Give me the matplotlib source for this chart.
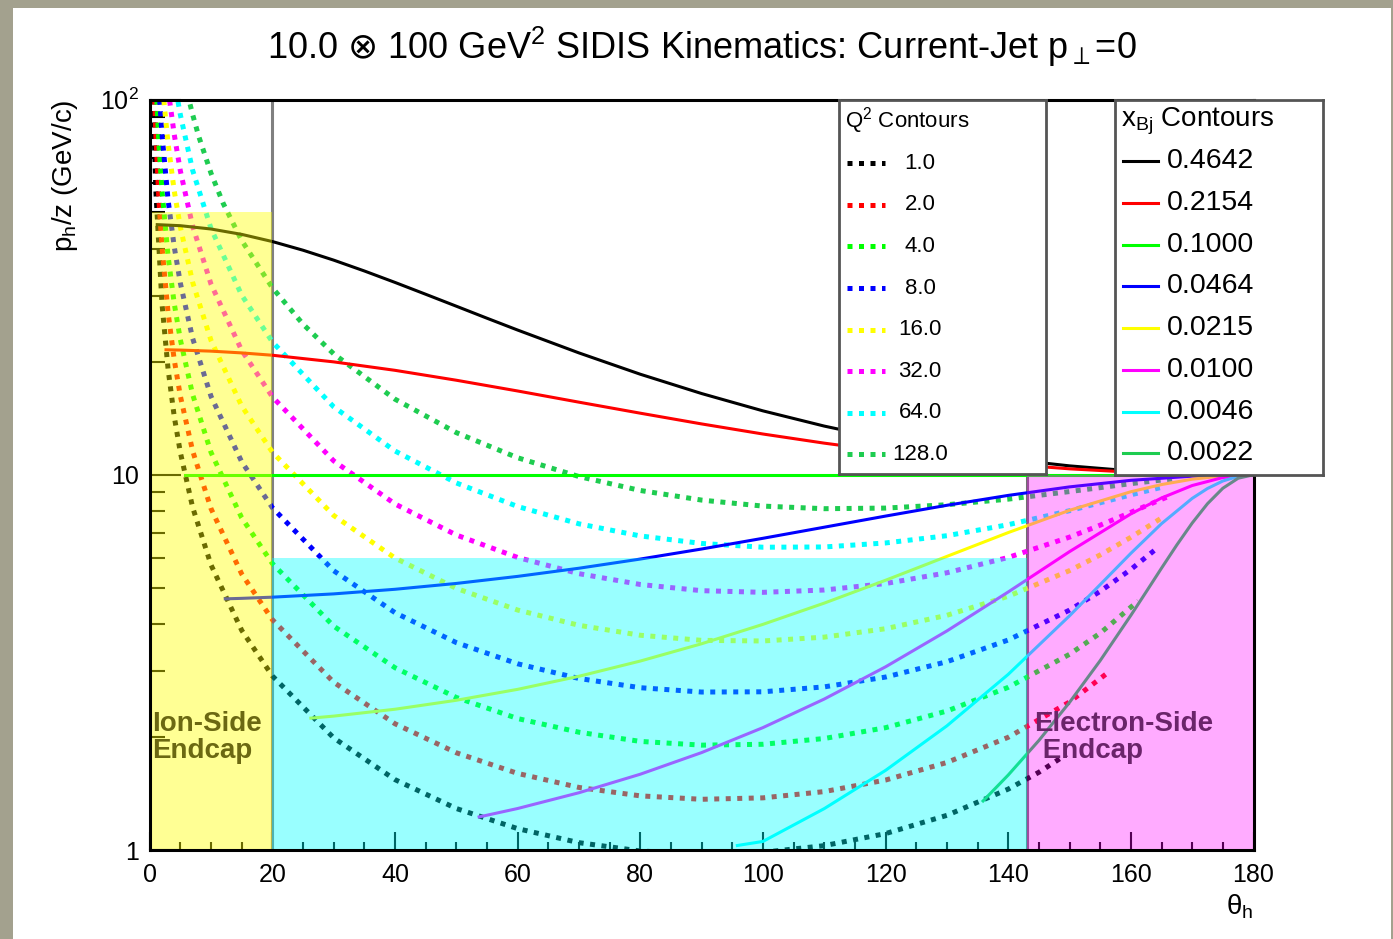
import matplotlib
matplotlib.use('Agg')
import matplotlib.pyplot as plt
from matplotlib.patches import Rectangle
from matplotlib.ticker import MultipleLocator, LogLocator, NullFormatter, FixedLocator, FixedFormatter

plt.rcParams['font.family'] = ['Liberation Sans', 'DejaVu Sans']
plt.rcParams['mathtext.fontset'] = 'custom'
plt.rcParams['mathtext.rm'] = 'Liberation Sans'
plt.rcParams['mathtext.it'] = 'Liberation Sans:italic'
plt.rcParams['mathtext.bf'] = 'Liberation Sans:bold'
plt.rcParams['mathtext.sf'] = 'DejaVu Sans'

# Q^2 contours (dotted): theta_h [deg] vs p_h/z [GeV/c]
q1_th = [0.57, 1, 2, 3, 4, 5, 7, 10, 15, 20, 30, 40, 50, 60, 70, 80, 90, 100, 110, 120, 130, 140, 145, 149.5]
q1_p = [100, 57.3, 28.6, 19.1, 14.3, 11.46, 8.19, 5.75, 3.85, 2.91, 1.99, 1.54, 1.29, 1.14, 1.046, 0.994, 0.975, 0.986, 1.027, 1.106, 1.237, 1.453, 1.611, 1.798]
q2_th = [0.81, 1, 1.5, 2, 3, 4, 5, 7, 10, 15, 20, 30, 40, 50, 60, 70, 80, 90, 100, 110, 120, 130, 140, 150, 156.5]
q2_p = [100, 81.0, 54.0, 40.5, 27.0, 20.25, 16.2, 11.58, 8.12, 5.44, 4.11, 2.80, 2.17, 1.816, 1.60, 1.468, 1.394, 1.365, 1.377, 1.431, 1.536, 1.711, 1.997, 2.48, 2.99]
q4_th = [1.15, 1.5, 2, 3, 4, 5, 7, 10, 15, 20, 30, 40, 50, 60, 70, 80, 90, 100, 110, 120, 130, 140, 150, 155, 161.2]
q4_p = [99.9, 76.4, 57.3, 38.2, 28.6, 22.9, 16.36, 11.47, 7.68, 5.80, 3.95, 3.06, 2.55, 2.24, 2.06, 1.947, 1.903, 1.913, 1.982, 2.118, 2.346, 2.713, 3.323, 3.784, 4.61]
q8_th = [1.62, 2, 3, 4, 5, 7, 10, 15, 20, 30, 40, 50, 60, 70, 80, 90, 100, 110, 120, 130, 140, 150, 155, 160, 163.8]
q8_p = [99.8, 80.9, 53.9, 40.5, 32.4, 23.1, 16.18, 10.83, 8.17, 5.55, 4.29, 3.57, 3.135, 2.865, 2.707, 2.636, 2.640, 2.721, 2.890, 3.175, 3.628, 4.358, 4.890, 5.594, 6.28]
q16_th = [2.3, 3, 4, 5, 7, 10, 15, 20, 30, 40, 50, 60, 70, 80, 90, 100, 110, 120, 130, 140, 150, 155, 160, 165.5]
q16_p = [99.6, 76.2, 57.1, 45.7, 32.6, 22.8, 15.25, 11.49, 7.79, 6.00, 4.98, 4.36, 3.97, 3.735, 3.62, 3.606, 3.692, 3.888, 4.221, 4.744, 5.553, 6.114, 6.812, 7.76]
q32_th = [3.25, 4, 5, 7, 10, 15, 20, 30, 40, 50, 60, 70, 80, 90, 100, 110, 120, 130, 140, 150, 155, 160, 165, 166]
q32_p = [99.3, 80.7, 64.5, 46.0, 32.2, 21.45, 16.13, 10.89, 8.36, 6.91, 6.02, 5.45, 5.10, 4.91, 4.86, 4.93, 5.13, 5.48, 6.02, 6.82, 7.34, 7.94, 8.60, 8.73]
q64_th = [4.62, 5, 7, 10, 15, 20, 30, 40, 50, 60, 70, 80, 90, 100, 110, 120, 130, 140, 150, 155, 160, 165.5]
q64_p = [98.6, 91.0, 64.8, 45.3, 30.1, 22.6, 15.17, 11.57, 9.51, 8.23, 7.40, 6.87, 6.56, 6.41, 6.42, 6.58, 6.88, 7.36, 8.02, 8.42, 8.84, 9.30]
q128_th = [6.58, 7, 8, 10, 12, 15, 20, 25, 30, 40, 50, 60, 70, 80, 90, 100, 110, 120, 130, 140, 150, 155, 160, 165, 167]
q128_p = [97.1, 91.2, 79.7, 63.6, 52.8, 42.1, 31.5, 25.2, 21.0, 15.9, 12.95, 11.10, 9.89, 9.08, 8.56, 8.25, 8.12, 8.15, 8.32, 8.61, 9.02, 9.24, 9.47, 9.68, 9.75]

# x_Bj contours (solid)
x1_th = [1.23, 5, 10, 15, 20, 25, 30, 35, 40, 45, 50, 55, 60, 70, 80, 90, 100, 110, 120, 130, 140, 150, 160, 170, 180]
x1_p = [46.4, 46.1, 45.17, 43.71, 41.83, 39.66, 37.32, 34.92, 32.55, 30.27, 28.13, 26.13, 24.30, 21.12, 18.53, 16.46, 14.80, 13.48, 12.44, 11.63, 11.01, 10.56, 10.24, 10.06, 10.0]
x2_th = [2.66, 5, 10, 15, 20, 30, 40, 50, 60, 70, 80, 90, 100, 110, 120, 130, 140, 150, 160, 170, 180]
x2_p = [21.53, 21.49, 21.35, 21.12, 20.82, 19.99, 18.98, 17.86, 16.72, 15.61, 14.59, 13.66, 12.84, 12.14, 11.55, 11.06, 10.67, 10.37, 10.16, 10.04, 10.0]
x3_th = [5.73, 180]
x3_p = [10.0, 10.0]
x4_th = [12.33, 15, 20, 30, 40, 50, 60, 70, 80, 90, 100, 110, 120, 130, 140, 150, 160, 170, 180]
x4_p = [4.67, 4.684, 4.718, 4.814, 4.952, 5.133, 5.360, 5.635, 5.961, 6.340, 6.771, 7.248, 7.760, 8.291, 8.810, 9.282, 9.664, 9.913, 10.0]
x5_th = [26.28, 30, 40, 50, 60, 70, 80, 90, 100, 110, 120, 130, 140, 150, 160, 165, 170, 175, 180]
x5_p = [2.246, 2.274, 2.372, 2.506, 2.680, 2.904, 3.188, 3.545, 3.993, 4.549, 5.234, 6.059, 7.013, 8.039, 9.011, 9.416, 9.731, 9.931, 10.0]
x6_th = [53.72, 60, 70, 80, 90, 100, 110, 120, 130, 140, 150, 160, 165, 170, 175, 180]
x6_p = [1.225, 1.290, 1.421, 1.592, 1.818, 2.119, 2.525, 3.077, 3.835, 4.871, 6.239, 7.866, 8.671, 9.360, 9.832, 10.0]
x7_th = [95.83, 100, 110, 120, 130, 140, 150, 155, 160, 165, 170, 172.5, 175, 177.5, 180]
x7_p = [1.028, 1.054, 1.289, 1.630, 2.142, 2.938, 4.208, 5.096, 6.175, 7.407, 8.650, 9.192, 9.624, 9.903, 10.0]
x8_th = [135.9, 140, 145, 150, 155, 160, 162.5, 165, 167.5, 170, 172.5, 175, 177.5, 180]
x8_p = [1.351, 1.584, 1.958, 2.474, 3.197, 4.220, 4.875, 5.638, 6.501, 7.435, 8.373, 9.205, 9.789, 10.0]

q2_labels = ['1.0', '2.0', '4.0', '8.0', '16.0', '32.0', '64.0', '128.0']
x_labels = ['0.4642', '0.2154', '0.1000', '0.0464', '0.0215', '0.0100', '0.0046', '0.0022']
colors = ['black', '#ff0000', '#00ff00', '#0000ff', '#ffff00', '#ff00ff', '#00ffff', '#1ecc50']

# detector regions: theta range and p_h/z upper edge
region_lo = [0, 20, 143]
region_hi = [20, 143, 180]
region_top = [50, 6, 10]
region_colors = ['#ffff00', '#00ffff', '#ff00ff']
region_alpha = [0.42, 0.40, 0.33]

q2_curves = [(q1_th, q1_p), (q2_th, q2_p), (q4_th, q4_p), (q8_th, q8_p),
             (q16_th, q16_p), (q32_th, q32_p), (q64_th, q64_p), (q128_th, q128_p)]
x_curves = [(x1_th, x1_p), (x2_th, x2_p), (x3_th, x3_p), (x4_th, x4_p),
            (x5_th, x5_p), (x6_th, x6_p), (x7_th, x7_p), (x8_th, x8_p)]

W, H = 1393, 939
fig = plt.figure(figsize=(W / 100, H / 100), dpi=100)
fig.patch.set_facecolor('#a3a18e')
fig.add_artist(Rectangle((13 / W, 0), (1391 - 13) / W, 931 / H, transform=fig.transFigure,
                         facecolor='white', edgecolor='none', zorder=-1))

ax = fig.add_axes([149.7 / W, 1 - 850 / H, (1253.5 - 149.7) / W, (850 - 99.5) / H])
ax.set_yscale('log')

dot_style = dict(linestyle=(0, (1, 1.3)), linewidth=3.6)
line_style = dict(linestyle='-', linewidth=2.2)

for (th, p), c in zip(q2_curves, colors):
    ax.plot(th, p, color=c, zorder=2, **dot_style)
for (th, p), c in zip(x_curves, colors):
    ax.plot(th, p, color=c, zorder=2.1, **line_style)

# region boundaries and shaded overlays
ax.axvline(20, color='#808080', linewidth=2.2, zorder=1.8)
ax.vlines(region_lo[2], 1, region_top[2], color='#707070', linewidth=2.2, zorder=1.8)
for lo, hi, top, c, a in zip(region_lo, region_hi, region_top, region_colors, region_alpha):
    ax.fill_between([lo, hi], 1, top, color=c, alpha=a, linewidth=0, zorder=2.4)

ax.text(0.35, 2.0, 'Ion-Side\nEndcap', fontsize=20, fontweight='bold', color='#6b6812',
        ha='left', va='center', linespacing=1.05, zorder=4)
ax.text(144.3, 2.0, 'Electron-Side\n Endcap', fontsize=20, fontweight='bold', color='#6a246a',
        ha='left', va='center', linespacing=1.05, zorder=4)

ax.set_xlim(0, 180)
ax.set_ylim(1, 100)
ax.xaxis.set_major_locator(MultipleLocator(20))
ax.xaxis.set_minor_locator(MultipleLocator(5))
ax.yaxis.set_major_locator(FixedLocator([1, 10, 100]))
ax.yaxis.set_major_formatter(FixedFormatter(['1', '10', '10$^2$']))
ax.yaxis.set_minor_locator(LogLocator(base=10, subs=[2, 3, 4, 5, 6, 7, 8, 9]))
ax.yaxis.set_minor_formatter(NullFormatter())
ax.tick_params(axis='x', which='major', direction='in', length=13, width=1.5, labelsize=18, pad=9)
ax.tick_params(axis='x', which='minor', direction='in', length=6, width=1.5)
ax.tick_params(axis='y', which='major', direction='in', length=22, width=1.5, labelsize=18, pad=8)
ax.tick_params(axis='y', which='minor', direction='in', length=11, width=1.5)
ax.tick_params(top=False, right=False, which='both')
for s in ax.spines.values():
    s.set_linewidth(2.2)
    s.set_color('black')

ax.set_xlabel('θ$_{\\rm h}$', fontsize=20, loc='right', labelpad=4)
ax.set_ylabel('p$_{\\rm h}$/z (GeV/c)', fontsize=20, loc='top', labelpad=14)

fig.text(702 / W, 1 - 47 / H,
         '10.0 $\\mathsf{\\otimes}$ 100 GeV$^2$ SIDIS Kinematics: Current-Jet p$_{\\perp}$=0',
         fontsize=26, ha='center', va='center')


def legend_box(x0, y0, x1, y1, title, title_size, labels, style, label_size,
               row0, drow, sx0, sx1, tx, ha):
    lax = fig.add_axes([x0 / W, 1 - y1 / H, (x1 - x0) / W, (y1 - y0) / H])
    lax.set_xlim(0, x1 - x0)
    lax.set_ylim(y1 - y0, 0)
    lax.set_xticks([])
    lax.set_yticks([])
    for s in lax.spines.values():
        s.set_linewidth(2)
        s.set_color('#555555')
    lax.text(6, 21, title, fontsize=title_size, ha='left', va='center')
    for i, (lab, c) in enumerate(zip(labels, colors)):
        y = row0 + i * drow
        lax.plot([sx0, sx1], [y, y], color=c, **style)
        lax.text(tx, y, lab, fontsize=label_size, ha=ha, va='center')


legend_box(839, 100, 1046, 474, 'Q$^2$ Contours', 16, q2_labels, dot_style, 16,
           63.3, 41.57, 8, 46, 81, 'center')
legend_box(1115, 100, 1323, 475, 'x$_{\\rm Bj}$ Contours', 20, x_labels, line_style, 20.5,
           61, 41.76, 8, 43, 52, 'left')

fig.savefig('out.png', dpi=100, facecolor=fig.get_facecolor())
